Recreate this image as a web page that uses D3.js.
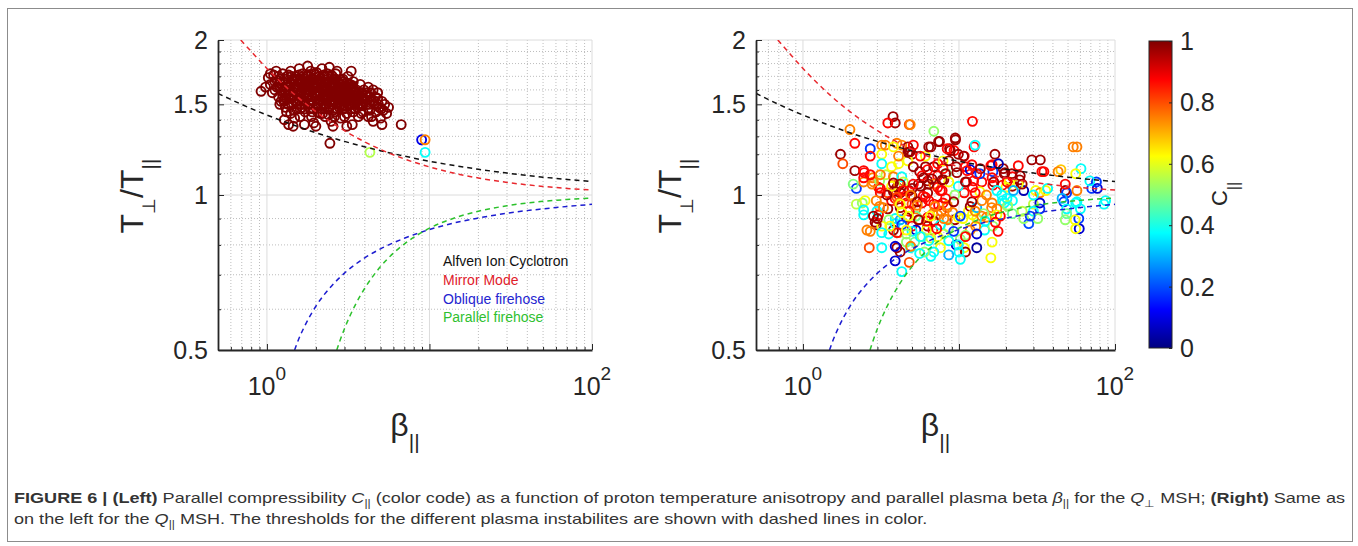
<!DOCTYPE html>
<html>
<head>
<meta charset="utf-8">
<script src="https://cdn.jsdelivr.net/npm/d3@7/dist/d3.min.js"></script>
<style>
  body { margin: 0; background: #fff; }
  svg text { font-family: "Liberation Sans", Arial, Helvetica, sans-serif; }
</style>
</head>
<body>
<svg id="fig" width="1358" height="546"></svg>
<script>
// ---- values ----
const xTickValues = [1, 100];
const yTickValues = [0.5, 1, 1.5, 2];
const yTickLabels = ["0.5", "1", "1.5", "2"];
const cbarTicks = [0, 0.2, 0.4, 0.6, 0.8, 1];
const cbarTickLabels = ["0", "0.2", "0.4", "0.6", "0.8", "1"];
const legendNames = ["Alfven Ion Cyclotron", "Mirror Mode", "Oblique firehose", "Parallel firehose"];

// threshold curves, [beta_par, Tperp/Tpar]
const aicCurve = [[0.5,1.575],[0.7,1.499],[1,1.43],[1.5,1.363],[2,1.321],[3,1.271],[5,1.219],[7,1.19],[10,1.163],[20,1.122],[30,1.103],[50,1.083],[70,1.072],[100,1.062]];
const mirrorCurve = [[0.69,2.0],[0.8,1.9],[1,1.761],[1.25,1.644],[1.5,1.561],[2,1.452],[3,1.333],[4,1.268],[5,1.226],[7,1.175],[10,1.134],[15,1.098],[20,1.079],[30,1.058],[50,1.039],[70,1.03],[100,1.023]];
const obliqueCurve = [[1.48,0.5],[1.55,0.52],[1.7,0.555],[2,0.608],[2.5,0.666],[3,0.705],[4,0.755],[5,0.786],[7,0.824],[10,0.857],[15,0.886],[20,0.902],[30,0.922],[50,0.94],[70,0.95],[100,0.959]];
const parallelCurve = [[2.69,0.5],[2.8,0.519],[3,0.55],[3.5,0.612],[4,0.659],[5,0.726],[6,0.771],[7,0.803],[10,0.862],[15,0.907],[20,0.93],[30,0.953],[50,0.972],[70,0.98],[100,0.986]];

// left panel (Q-perp MSH): dense cluster, all with C close to 1
const leftCluster = [
  [0.92,1.59],[0.98,1.62],[1.02,1.69],[1.05,1.64],[1.08,1.58],[1.1,1.71],[1.12,1.66],[1.15,1.62],[1.18,1.55],[1.2,1.68],[1.05,1.72],[1.14,1.74],
  [1.22,1.6],[1.25,1.72],[1.27,1.52],[1.3,1.65],[1.32,1.45],[1.33,1.7],[1.35,1.58],[1.38,1.62],[1.4,1.74],[1.42,1.5],[1.44,1.67],[1.46,1.56],
  [1.48,1.41],[1.5,1.7],[1.52,1.6],[1.55,1.64],[1.57,1.53],[1.58,1.76],[1.6,1.47],[1.28,1.4],[1.36,1.37],[1.45,1.36],
  [1.62,1.68],[1.64,1.58],[1.66,1.72],[1.68,1.52],[1.7,1.63],[1.72,1.45],[1.74,1.66],[1.76,1.56],[1.78,1.78],[1.8,1.7],[1.82,1.5],[1.84,1.6],
  [1.86,1.74],[1.88,1.42],[1.9,1.55],[1.92,1.65],[1.94,1.38],[1.96,1.69],[1.98,1.58],[2.0,1.48],[2.02,1.73],[2.05,1.62],[2.08,1.53],[2.1,1.67],
  [2.12,1.44],[2.15,1.57],[2.18,1.76],[2.2,1.62],[1.7,1.37],[2.0,1.36],
  [2.22,1.5],[2.25,1.7],[2.28,1.42],[2.3,1.6],[2.33,1.55],[2.36,1.66],[2.4,1.48],[2.42,1.77],[2.45,1.62],[2.48,1.39],[2.5,1.57],[2.53,1.7],
  [2.56,1.52],[2.6,1.64],[2.63,1.45],[2.66,1.59],[2.7,1.74],[2.73,1.5],[2.76,1.62],[2.8,1.55],[2.84,1.41],[2.88,1.67],[2.92,1.47],[2.96,1.58],[2.55,1.36],
  [3.0,1.53],[3.05,1.63],[3.1,1.44],[3.15,1.7],[3.2,1.57],[3.25,1.5],[3.3,1.61],[3.35,1.37],[3.4,1.66],[3.45,1.54],[3.5,1.47],[3.55,1.6],
  [3.6,1.52],[3.65,1.42],[3.7,1.58],[3.75,1.64],[3.8,1.49],[3.85,1.55],[3.9,1.45],[3.95,1.6],[3.1,1.36],[3.3,1.74],
  [4.0,1.52],[4.1,1.58],[4.2,1.47],[4.3,1.55],[4.4,1.42],[4.5,1.6],[4.6,1.5],[4.7,1.45],[4.8,1.54],[4.9,1.48],[5.0,1.41],[5.1,1.52],
  [5.2,1.46],[5.3,1.5],[5.45,1.44],[5.6,1.48],[4.2,1.62],[4.5,1.39],[5.1,1.37],[4.8,1.58],
  [1.35,1.5],[1.4,1.55],[1.45,1.62],[1.5,1.52],[1.55,1.57],[1.6,1.66],[1.65,1.62],[1.7,1.55],[1.75,1.6],[1.8,1.65],[1.85,1.53],[1.9,1.68],
  [1.95,1.61],[2.0,1.56],[2.05,1.67],[2.1,1.59],[2.15,1.64],[2.2,1.53],[2.25,1.57],[2.3,1.65],[2.35,1.59],[2.4,1.7],[2.45,1.52],[2.5,1.64],
  [2.55,1.58],[2.6,1.55],[2.65,1.67],[2.7,1.6],[2.75,1.53],[2.8,1.65],[2.85,1.58],[2.9,1.52],[2.95,1.62],[3.0,1.57],[3.1,1.6],[3.2,1.5],
  [3.3,1.55],[3.4,1.59],[3.5,1.56],[3.6,1.48],[1.55,1.68],[1.65,1.48],[1.75,1.7],[1.85,1.47],[1.95,1.72],[2.05,1.45],[2.25,1.47],[2.35,1.72],
  [2.55,1.46],[2.65,1.72],[2.85,1.5],[3.05,1.56],[3.25,1.64],[3.45,1.5],[3.7,1.53],[3.9,1.5],[4.1,1.5],[4.3,1.46],[4.4,1.53],[1.25,1.56],
  [1.2,1.62],[1.3,1.6],[1.15,1.67],
  [1.12,1.6],[1.18,1.7],[1.22,1.52],[1.26,1.66],[1.3,1.48],[1.34,1.64],[1.38,1.54],[1.42,1.7],[1.46,1.46],[1.5,1.62],[1.54,1.5],[1.58,1.6],
  [1.62,1.55],[1.66,1.66],[1.7,1.5],[1.74,1.58],[1.78,1.63],[1.82,1.56],[1.86,1.66],[1.9,1.6],[1.94,1.52],[1.98,1.64],[2.02,1.58],[2.06,1.5],
  [2.1,1.7],[2.14,1.53],[2.18,1.6],[2.22,1.66],[2.26,1.54],[2.3,1.5],[2.34,1.62],[2.38,1.56],[2.42,1.64],[2.46,1.58],[2.5,1.5],[2.54,1.62],
  [2.58,1.68],[2.62,1.52],[2.68,1.56],[2.72,1.66],[2.78,1.48],[2.82,1.6],[2.88,1.55],[2.94,1.66],[3.0,1.49],[3.06,1.6],[3.12,1.54],[3.18,1.64],
  [3.24,1.56],[3.32,1.5],[3.38,1.63],[3.46,1.58],[3.54,1.53],[3.62,1.57],[3.72,1.5],[3.82,1.58],[3.92,1.54],[4.05,1.56],[4.15,1.53],[4.25,1.5],
  [4.35,1.58],[4.55,1.52],[4.65,1.55],[4.85,1.5],[5.05,1.47],[1.6,1.42],[1.9,1.45],[2.2,1.44],[2.6,1.42],[3.0,1.42],[3.4,1.45],[3.8,1.44],
  [4.2,1.42],[1.4,1.44],[2.4,1.43],[1.2,1.5],[1.3,1.54],
  [1.52,1.47],[1.71,1.47],[1.93,1.47],[2.17,1.47],[2.41,1.47],[2.69,1.47],[2.98,1.47],[3.3,1.47],
  [1.42,1.5],[1.62,1.5],[1.83,1.5],[2.04,1.5],[2.29,1.5],[2.55,1.5],[2.84,1.5],[3.15,1.5],[3.48,1.5],[3.85,1.5],
  [1.28,1.53],[1.47,1.53],[1.68,1.53],[1.88,1.53],[2.11,1.53],[2.36,1.53],[2.62,1.53],[2.91,1.53],[3.22,1.53],[3.57,1.53],
  [1.36,1.56],[1.56,1.56],[1.77,1.56],[1.99,1.56],[2.22,1.56],[2.48,1.56],[2.76,1.56],[3.06,1.56],[3.38,1.56],[3.72,1.56],
  [1.24,1.59],[1.44,1.59],[1.64,1.59],[1.85,1.59],[2.07,1.59],[2.31,1.59],[2.57,1.59],[2.86,1.59],[3.16,1.59],[3.5,1.59],
  [1.32,1.62],[1.52,1.62],[1.73,1.62],[1.95,1.62],[2.18,1.62],[2.44,1.62],[2.71,1.62],[3.0,1.62],[3.32,1.62],
  [1.2,1.65],[1.4,1.65],[1.6,1.65],[1.81,1.65],[2.03,1.65],[2.27,1.65],[2.53,1.65],[2.8,1.65],[3.1,1.65],
  [1.28,1.68],[1.48,1.68],[1.69,1.68],[1.9,1.68],[2.13,1.68],[2.38,1.68],[2.64,1.68],[2.93,1.68],
  [1.36,1.71],[1.57,1.71],[1.78,1.71],[2.0,1.71],[2.24,1.71],[2.49,1.71]
];
const leftClusterC = 1;
// left panel, isolated points [beta, T ratio, C]
const leftOthers = [[2.44,1.26,1],[6.7,1.37,1],[4.3,1.21,0.55],[8.95,1.28,0.1],[9.4,1.28,0.75],[9.4,1.21,0.38]];

// right panel (Q-par MSH) [beta, T ratio, C]
const rightPoints = [
  [3.78,1.42,0.97],[3.9,1.38,0.97],[3.5,1.38,0.87],[4.8,1.37,0.8],[12.2,1.39,0.87],[2.0,1.34,0.75],[6.9,1.33,0.52],[1.74,1.2,0.97],
  [1.8,1.15,0.8],[2.15,1.26,0.87],[2.7,1.23,0.18],[3.2,1.25,0.75],[2.7,1.19,0.87],[3.2,1.2,0.62],[4.0,1.26,0.75],[4.3,1.25,0.75],
  [4.7,1.24,0.97],[4.8,1.21,0.97],[5.0,1.2,0.97],[6.6,1.24,0.97],[7.5,1.27,0.97],[8.7,1.23,0.97],[9.5,1.28,0.97],[9.3,1.22,0.87],
  [9.9,1.2,0.97],[10.8,1.19,0.87],[12.5,1.24,0.87],[12.7,1.25,0.38],[17.0,1.2,0.97],[33.2,1.17,0.97],[57,1.24,0.75],[60.5,1.125,0.38],
  [56,1.1,0.62],[45,1.12,0.68],[35,1.11,0.87],[24,1.14,0.87],[19.5,1.1,0.97],[22,1.085,0.87],[24.5,1.07,0.97],[26,1.02,0.05],
  [22,1.04,0.97],[19,1.045,0.87],[16.5,1.045,0.87],[16.5,1.11,0.18],[16,1.14,0.87],[14,1.06,0.87],[12.4,1.065,0.87],[11.2,1.06,0.87],
  [9.6,1.135,0.97],[11.0,1.135,0.87],[11.8,1.12,0.08],[13.6,1.1,0.18],[21,1.06,0.62],[31,1.02,0.62],[33,1.01,0.75],[36,1.02,0.62],
  [37,1.03,0.38],[48,1.02,0.97],[49,1.01,0.18],[57,1.02,0.75],[71,1.03,0.18],[77,1.03,0.08],[85,0.96,0.38],[60,0.94,0.38],
  [56,0.965,0.38],[47,0.97,0.18],[49,0.94,0.38],[48,0.895,0.52],[59,0.86,0.08],[56,0.86,0.62],[33,0.94,0.18],[28,0.88,0.2],
  [26,0.9,0.52],[30,0.96,0.56],[22,0.975,0.38],[19,0.975,0.38],[19.5,0.965,0.38],[20.5,0.95,0.52],[20,1.035,0.62],[13.6,1.015,0.62],
  [15,1.0,0.75],[12.2,1.035,0.87],[10.8,1.01,0.87],[9.9,1.04,0.38],[9.4,1.0,0.52],[8.3,1.1,0.48],[8.0,1.07,0.97],[7.3,1.09,0.87],
  [6.9,1.135,0.97],[6.1,1.135,0.97],[5.6,1.11,0.97],[6.3,1.065,0.97],[5.5,1.05,0.97],[5.0,1.03,0.97],[6.3,1.01,0.97],[5.9,0.995,0.87],
  [5.0,0.995,0.97],[4.8,1.02,0.97],[4.4,1.025,0.87],[4.0,1.035,0.97],[3.8,1.015,0.97],[4.2,1.01,0.97],[4.5,0.995,0.87],[3.9,0.985,0.87],
  [3.5,1.01,0.8],[3.7,0.975,0.87],[3.13,1.01,0.87],[3.05,1.035,0.87],[2.95,0.975,0.75],[3.5,0.94,0.97],[3.1,0.95,0.75],[4.1,0.965,0.75],
  [4.2,0.945,0.97],[4.6,0.965,0.87],[5.0,0.96,0.8],[5.3,0.94,0.75],[5.8,0.965,0.87],[6.4,0.975,0.87],[6.9,0.96,0.87],[7.4,0.955,0.87],
  [7.9,0.965,0.87],[8.4,0.945,0.75],[7.7,0.93,0.8],[7.3,0.915,0.75],[6.8,0.92,0.75],[6.3,0.905,0.87],[6.9,0.89,0.97],[6.3,0.87,0.97],
  [5.6,0.895,0.75],[5.3,0.91,0.48],[4.8,0.93,0.87],[4.6,0.905,0.97],[5.0,0.87,0.87],[5.3,0.855,0.08],[6.8,0.855,0.87],[6.2,0.855,0.62],
  [9.4,0.895,0.97],[9.1,0.925,0.75],[9.9,0.905,0.62],[10.6,0.9,0.62],[11.5,0.93,0.62],[11.8,0.95,0.97],[12.2,0.915,0.62],[13,0.9,0.62],
  [14,0.91,0.75],[15,0.905,0.75],[16.2,0.945,0.75],[17.5,0.94,0.75],[14.6,0.855,0.38],[16.5,0.87,0.52],[17.8,0.85,0.87],[12.8,0.87,0.75],
  [11.8,0.855,0.75],[11.0,0.835,0.52],[10.2,0.82,0.52],[9.6,0.8,0.08],[10.8,0.79,0.62],[11,0.775,0.97],[13,0.79,0.03],[10,0.775,0.38],
  [8.6,0.765,0.3],[10.2,0.75,0.38],[16,0.755,0.62],[7.6,0.79,0.62],[6.9,0.775,0.38],[6.6,0.76,0.38],[6.0,0.775,0.52],[5.6,0.77,0.38],
  [4.9,0.79,0.38],[5.2,0.81,0.48],[4.6,0.81,0.52],[4.2,0.775,0.97],[4.0,0.79,0.97],[3.9,0.745,0.08],[4.8,0.74,0.8],[4.3,0.71,0.38],
  [4.1,0.845,0.75],[3.8,0.855,0.97],[3.2,0.79,0.38],[2.66,0.79,0.8],[2.57,0.855,0.75],[2.95,0.875,0.97],[2.9,0.885,0.97],[3.05,0.915,0.87],
  [2.45,0.915,0.38],[2.4,0.965,0.52],[2.5,0.975,0.62],[2.2,1.03,0.18],[2.45,1.06,0.75],[2.47,1.105,0.87],[2.15,1.115,0.97],[2.45,1.115,0.87],
  [2.8,1.08,0.75],[2.77,1.05,0.75],[3.1,1.065,0.52],[3.4,1.095,0.56],[3.2,1.15,0.38],[3.7,1.135,0.62],[4.1,1.15,0.62],[4.7,1.165,0.62],
  [4.7,1.21,0.97],[6.1,1.19,0.62],[5.1,1.135,0.97],[6.3,1.12,0.87],[7.3,1.15,0.87],[7.9,1.165,0.62],[7.9,1.125,0.87],[8.6,1.165,0.97],
  [8.2,1.1,0.97],[3.8,1.085,0.75],[4.1,1.05,0.75],[3.7,1.04,0.62],[4.3,1.085,0.38],[4.4,1.06,0.56],[6.9,1.05,0.75],[7.3,1.035,0.87],
  [7.8,1.02,0.87],[8.6,1.06,0.62],[5.8,1.09,0.87],[3.9,0.9,0.38],[3.55,0.895,0.52],[3.2,0.87,0.62],[3.55,0.84,0.38],[3.9,0.88,0.38],
  [4.2,0.895,0.3],[4.3,0.875,0.18],[5.0,0.85,0.38],[4.6,0.84,0.52],[5.8,0.83,0.52],[6.6,0.825,0.56],[7.3,0.83,0.62],[8.0,0.84,0.62],
  [8.6,0.865,0.52],[8.4,0.895,0.75],[7.6,0.875,0.38],[13,0.945,0.3],[14,0.975,0.75],[18.4,0.91,0.87],[20.5,0.955,0.52],[22,0.92,0.48],
  [30,0.93,0.38],[32,0.9,0.52],[2.1,1.05,0.5],[2.2,0.96,0.56],
  [4.87,1.37,0.75],[9.47,1.29,0.97],[8.8,1.22,0.97],[29.3,1.17,0.97],[54,1.24,0.75],[43.2,1.11,0.75],[34,1.11,0.87],[76,1.06,0.18],
  [69,1.065,0.38],[87,0.975,0.38],[48,1.05,0.87],[45.8,0.985,0.3],[57,0.97,0.38],[58.6,0.9,0.18],[55.5,0.895,0.62],[49,0.92,0.48],
  [33,0.965,0.08],[28.6,0.91,0.18],[25.4,0.93,0.56],[30,1.0,0.38],[24,1.05,0.62],[19.2,1.125,0.97],[21.8,1.1,0.97],[24.7,1.09,0.97],
  [25.4,1.05,0.97],[16.7,1.06,0.97],[20.3,1.06,0.87],[17.5,1.02,0.38],[18.8,1.0,0.38],[20.3,0.985,0.38],[22.3,1.02,0.3],[16.3,0.965,0.75],
  [17.5,0.915,0.62],[17.1,0.885,0.87],[14.4,0.92,0.52],[14.7,0.89,0.38],[12.7,0.93,0.75],[12.1,0.97,0.97],[12.7,1.01,0.87],[11,1.06,0.97],
  [9.7,1.105,0.97],[11.3,1.115,0.87],[13.0,1.1,0.87],[10.2,0.91,0.18],[9.25,0.85,0.18],[13,0.84,0.08],[11,0.83,0.87],[9.9,0.8,0.38],
  [16.3,0.81,0.62],[8.6,0.815,0.38],[6.4,0.815,0.38],[5.65,0.83,0.38],[4.9,0.795,0.75],[3.9,0.795,0.08],[4.0,0.845,0.87],[4.6,0.855,0.62],
  [7.2,0.86,0.87],[6.2,0.89,0.87],[5.5,0.895,0.97],[6.55,0.91,0.62],[8.0,0.9,0.75],[7.0,0.95,0.75],[8.4,0.955,0.75],[8.2,0.985,0.87],
  [9.25,0.97,0.97],[6.7,1.075,0.97],[5.93,1.08,0.97],[7.8,1.07,0.97],[6.4,1.05,0.97],[5.65,1.04,0.97],[5.1,1.05,0.87],[3.8,1.055,0.97],
  [4.2,1.05,0.97],[4.4,1.02,0.87],[4.9,1.0,0.75],[4.0,0.99,0.8],[5.4,0.97,0.97],[6.1,0.99,0.87],[7.6,1.02,0.87],[3.45,1.0,0.97],
  [3.13,1.03,0.87],[2.83,1.06,0.75],[2.7,1.095,0.87],[3.13,1.095,0.75],[2.45,1.08,0.87],[2.98,0.93,0.38],[3.28,0.945,0.75],[2.83,0.91,0.97],
  [3.0,0.9,0.97],[3.6,0.87,0.62],[2.7,0.85,0.75],[3.2,0.845,0.38],[2.45,0.935,0.38],[4.3,0.925,0.62],[4.75,0.91,0.62],[5.4,0.955,0.75],
  [4.2,0.96,0.62],[3.37,1.25,0.75],[3.8,1.24,0.62],[4.1,1.19,0.75],[4.87,1.215,0.97],[5.1,1.25,0.87],[5.65,1.19,0.87],[6.4,1.24,0.97],
  [7.4,1.27,0.97],[8.4,1.23,0.87],[10.7,1.19,0.97],[12.1,1.145,0.87],[13.7,1.125,0.97],[16.3,1.145,0.87],[17.9,1.15,0.05],[19.7,1.105,0.97],
  [16.3,1.08,0.87]
];

// caption text pieces: [text, kind]  kind: b = bold, i = italic, s = subscript
const captionLine1 = [["FIGURE 6 | (Left)","b"],[" Parallel compressibility ",""],["C","i"],["||","s"],
  [" (color code) as a function of proton temperature anisotropy and parallel plasma beta ",""],["β","i"],["||","s"],
  [" for the ",""],["Q","i"],["⊥","s"],[" MSH; ",""],["(Right)","b"],[" Same as",""]];
const captionLine2 = [["on the left for the ",""],["Q","i"],["||","s"],
  [" MSH. The thresholds for the different plasma instabilites are shown with dashed lines in color.",""]];

// ---- drawing ----
const svg = d3.select("#fig");
const plotTop = 40, plotBottom = 350;
const axisColor = "#262626";

// MATLAB jet colormap
const jet = d3.scaleLinear()
  .domain([0, 0.125, 0.375, 0.625, 0.875, 1])
  .range(["#000080", "#0000ff", "#00ffff", "#ffff00", "#ff0000", "#800000"])
  .clamp(true);

const curves = [
  { data: aicCurve, color: "#111111" },
  { data: mirrorCurve, color: "#e8282e" },
  { data: obliqueCurve, color: "#1c1cd0" },
  { data: parallelCurve, color: "#2cc12c" }
];
const legendColors = ["#111111", "#e0202a", "#2424d0", "#2fbf2f"];

// outer frame
svg.append("rect")
  .attr("x", 7.5).attr("y", 8.5).attr("width", 1345).attr("height", 533)
  .attr("fill", "none").attr("stroke", "#8c8c8c").attr("stroke-width", 1);

const panels = [
  { id: "L", x0: 218, x1: 592, points: leftCluster.map(d => [d[0], d[1], leftClusterC]).concat(leftOthers), legend: true },
  { id: "R", x0: 756, x1: 1115, points: rightPoints, legend: false }
];

panels.forEach(p => {
  const x = d3.scaleLog().domain([0.5, 100]).range([p.x0, p.x1]);
  const y = d3.scaleLog().domain([0.5, 2]).range([plotBottom, plotTop]);
  const g = svg.append("g");

  // grid lines
  const xMajor = [1, 10, 100];
  const xMinor = x.ticks().filter(v => !xMajor.includes(v) && v > 0.5);
  const yAll = d3.range(5, 21).map(v => v / 10);
  const yMinor = yAll.filter(v => !yTickValues.includes(v));

  g.append("g").selectAll("line").data(xMinor).join("line")
    .attr("x1", d => x(d)).attr("x2", d => x(d)).attr("y1", plotTop).attr("y2", plotBottom)
    .attr("stroke", "#bdbdbd").attr("stroke-dasharray", "1,2");
  g.append("g").selectAll("line").data(yMinor).join("line")
    .attr("x1", p.x0).attr("x2", p.x1).attr("y1", d => y(d)).attr("y2", d => y(d))
    .attr("stroke", "#bdbdbd").attr("stroke-dasharray", "1,2");
  g.append("g").selectAll("line").data(xMajor).join("line")
    .attr("x1", d => x(d)).attr("x2", d => x(d)).attr("y1", plotTop).attr("y2", plotBottom)
    .attr("stroke", "#dcdcdc");
  g.append("g").selectAll("line").data(yTickValues).join("line")
    .attr("x1", p.x0).attr("x2", p.x1).attr("y1", d => y(d)).attr("y2", d => y(d))
    .attr("stroke", "#dcdcdc");

  // scatter
  g.append("g").selectAll("circle").data(p.points).join("circle")
    .attr("cx", d => x(d[0])).attr("cy", d => y(d[1])).attr("r", 4.5)
    .attr("fill", "none").attr("stroke", d => jet(d[2])).attr("stroke-width", 1.9);

  // threshold curves
  const clipId = "clip" + p.id;
  svg.append("clipPath").attr("id", clipId).append("rect")
    .attr("x", p.x0).attr("y", plotTop).attr("width", p.x1 - p.x0).attr("height", plotBottom - plotTop);
  const line = d3.line().x(d => x(d[0])).y(d => y(d[1])).curve(d3.curveMonotoneX);
  curves.forEach(c => {
    g.append("path").datum(c.data).attr("d", line)
      .attr("fill", "none").attr("stroke", c.color).attr("stroke-width", 1.5)
      .attr("stroke-dasharray", "5,4").attr("clip-path", `url(#${clipId})`);
  });

  // axes (ticks point inward)
  g.append("g").attr("transform", `translate(0,${plotBottom})`).attr("color", axisColor)
    .call(d3.axisBottom(x).tickValues(xMinor).tickSize(-3).tickSizeOuter(0).tickFormat(""))
    .call(a => a.select(".domain").remove());
  g.append("g").attr("transform", `translate(0,${plotBottom})`).attr("color", axisColor)
    .call(d3.axisBottom(x).tickValues(xMajor).tickSize(-6).tickSizeOuter(0).tickFormat(""))
    .call(a => a.select(".domain").attr("stroke-width", 1.8));
  g.append("g").attr("transform", `translate(${p.x0},0)`).attr("color", axisColor)
    .call(d3.axisLeft(y).tickValues(yMinor).tickSize(-3).tickSizeOuter(0).tickFormat(""))
    .call(a => a.select(".domain").remove());
  g.append("g").attr("transform", `translate(${p.x0},0)`).attr("color", axisColor)
    .call(d3.axisLeft(y).tickValues(yTickValues).tickSize(-6).tickSizeOuter(0).tickFormat(""))
    .call(a => a.select(".domain").attr("stroke-width", 1.8));

  // tick labels
  g.append("g").selectAll("text").data(yTickValues).join("text")
    .attr("x", p.x0 - 10).attr("y", d => y(d)).attr("dy", "0.36em")
    .attr("text-anchor", "end").attr("font-size", 25).attr("fill", axisColor)
    .text((d, i) => yTickLabels[i]);
  g.append("g").selectAll("text").data(xTickValues).join("text")
    .attr("x", d => x(d)).attr("y", 395).attr("text-anchor", "middle")
    .attr("font-size", 25).attr("fill", axisColor)
    .each(function(d) {
      const t = d3.select(this);
      t.append("tspan").text("10");
      t.append("tspan").attr("dy", -15).attr("font-size", 19).text(Math.round(Math.log10(d)));
    });

  // axis labels
  const yl = g.append("text")
    .attr("transform", `translate(${p.x0 - 75},196) rotate(-90)`)
    .attr("text-anchor", "middle").attr("font-size", 32).attr("fill", axisColor);
  yl.append("tspan").text("T");
  yl.append("tspan").attr("dy", 12).attr("font-size", 18).text("⊥");
  yl.append("tspan").attr("dy", -12).text("/T");
  yl.append("tspan").attr("dy", 14).attr("font-size", 21).text("||");

  const xl = g.append("text")
    .attr("x", (p.x0 + p.x1) / 2).attr("y", 436)
    .attr("text-anchor", "middle").attr("font-size", 32).attr("fill", axisColor);
  xl.append("tspan").text("β");
  xl.append("tspan").attr("dy", 13).attr("font-size", 21).text("||");

  // legend (left panel only)
  if (p.legend) {
    g.append("g").selectAll("text").data(legendNames).join("text")
      .attr("x", 443).attr("y", (d, i) => 266 + i * 18.8)
      .attr("font-size", 14).attr("fill", (d, i) => legendColors[i])
      .text(d => d);
  }
});

// ---- colorbar ----
const cb = { x: 1149, w: 23, y0: 41, y1: 348 };
const cScale = d3.scaleLinear().domain([0, 1]).range([cb.y1, cb.y0]);
const grad = svg.append("defs").append("linearGradient").attr("id", "jetGrad")
  .attr("x1", 0).attr("y1", 1).attr("x2", 0).attr("y2", 0);
jet.domain().forEach(v => grad.append("stop").attr("offset", v).attr("stop-color", jet(v)));
svg.append("rect").attr("x", cb.x).attr("y", cb.y0).attr("width", cb.w).attr("height", cb.y1 - cb.y0)
  .attr("fill", "url(#jetGrad)").attr("stroke", axisColor).attr("stroke-width", 1);
svg.append("g").attr("transform", `translate(${cb.x + cb.w},0)`).attr("color", axisColor)
  .call(d3.axisRight(cScale).tickValues(cbarTicks).tickSize(-3).tickSizeOuter(0).tickFormat(""))
  .call(a => a.select(".domain").remove());
svg.append("g").selectAll("text").data(cbarTicks).join("text")
  .attr("x", 1180).attr("y", d => cScale(d)).attr("dy", "0.36em")
  .attr("font-size", 25).attr("fill", axisColor)
  .text((d, i) => cbarTickLabels[i]);
const cl = svg.append("text")
  .attr("transform", "translate(1227,194) rotate(-90)")
  .attr("text-anchor", "middle").attr("font-size", 22).attr("fill", axisColor);
cl.append("tspan").text("C");
cl.append("tspan").attr("dy", 12).attr("font-size", 16).text("||");

// ---- caption ----
function writeCaption(parts, yPos) {
  const t = svg.append("text").attr("x", 14).attr("y", yPos)
    .attr("font-size", 15).attr("fill", "#333");
  let shift = 0;
  parts.forEach(([txt, kind]) => {
    const s = t.append("tspan").text(txt);
    if (kind === "s") {
      s.attr("dy", 4 - shift).attr("font-size", 10);
      shift = 4;
    } else if (shift) {
      s.attr("dy", -shift);
      shift = 0;
    }
    if (kind === "b") s.attr("font-weight", "bold");
    if (kind === "i") s.attr("font-style", "italic");
  });
  return t;
}
const cap1 = writeCaption(captionLine1, 503);
const cap2 = writeCaption(captionLine2, 524);
const w1 = cap1.node().getComputedTextLength();
const w2 = cap2.node().getComputedTextLength();
const squeeze = 1331 / w1;
cap1.attr("textLength", 1331).attr("lengthAdjust", "spacingAndGlyphs");
cap2.attr("textLength", w2 * squeeze).attr("lengthAdjust", "spacingAndGlyphs");
</script>
</body>
</html>
